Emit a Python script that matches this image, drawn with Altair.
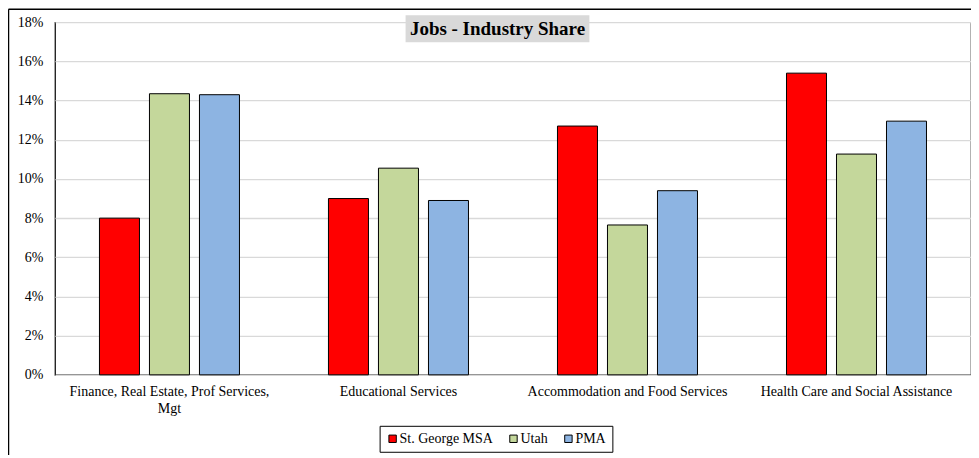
import altair as alt
import pandas as pd

categories = [
    "Finance, Real Estate, Prof Services, Mgt",
    "Educational Services",
    "Accommodation and Food Services",
    "Health Care and Social Assistance",
]
series = ["St. George MSA", "Utah", "PMA"]
st_george = [0.080, 0.090, 0.127, 0.154]
utah = [0.1435, 0.1055, 0.0765, 0.1127]
pma = [0.143, 0.089, 0.094, 0.1295]
colors = ["#ff0000", "#c4d79b", "#8db4e2"]
y_ticks = [0, 0.02, 0.04, 0.06, 0.08, 0.10, 0.12, 0.14, 0.16, 0.18]
title_text = "Jobs - Industry Share"

rows = []
for s, vals in zip(series, [st_george, utah, pma]):
    for c, v in zip(categories, vals):
        rows.append({"category": c, "series": s, "value": v})
df = pd.DataFrame(rows)

FONT = "Liberation Serif"

bars = alt.Chart(df).mark_bar(stroke="#000000", strokeWidth=1).encode(
    x=alt.X(
        "category:N",
        sort=categories,
        scale=alt.Scale(paddingInner=0, paddingOuter=0),
        axis=alt.Axis(
            title=None, labelAngle=0, ticks=False, domain=False,
            labelFont=FONT, labelFontSize=14, labelColor="#000",
            labelPadding=10, labelLimit=400, labelLineHeight=17,
            labelExpr="datum.label == 'Finance, Real Estate, Prof Services, Mgt' ? ['Finance, Real Estate, Prof Services,', 'Mgt'] : datum.label",
        ),
    ),
    xOffset=alt.XOffset(
        "series:N", sort=series,
        scale=alt.Scale(paddingInner=0.2, paddingOuter=0.89),
    ),
    y=alt.Y(
        "value:Q",
        scale=alt.Scale(domain=[0, 0.18], nice=False),
        axis=alt.Axis(
            title=None, values=y_ticks, format=".0%", ticks=False,
            domain=False, gridColor="#d9d9d9", gridWidth=1.3,
            labelFont=FONT, labelFontSize=14, labelColor="#000",
            labelPadding=12,
        ),
    ),
    color=alt.Color(
        "series:N", sort=series,
        scale=alt.Scale(domain=series, range=colors),
        legend=alt.Legend(
            title=None, orient="none", direction="horizontal",
            legendX=325, legendY=404,
            symbolType="square", symbolSize=55,
            symbolStrokeColor="#000", symbolStrokeWidth=1,
            labelFont=FONT, labelFontSize=14, labelColor="#000",
            strokeColor="#000", padding=6, columnPadding=13,
            labelOffset={"expr": "0"},
        ),
    ),
)

title_bg = alt.Chart(pd.DataFrame({"t": [title_text]})).mark_rect(
    color="#d9d9d9"
).encode(
    x=alt.value(351), x2=alt.value(535), y=alt.value(-7), y2=alt.value(20)
)
title = alt.Chart(pd.DataFrame({"t": [title_text]})).mark_text(
    font=FONT, fontSize=19, fontWeight="bold", color="#000",
    align="center", baseline="middle",
).encode(text="t:N", x=alt.value(443), y=alt.value(7))

frame_top = alt.Chart(pd.DataFrame({"t": [0]})).mark_rule(
    color="#000", strokeWidth=1.5
).encode(x=alt.value(-46.5), x2=alt.value(930), y=alt.value(-13))
frame_left = alt.Chart(pd.DataFrame({"t": [0]})).mark_rule(
    color="#000", strokeWidth=1.5
).encode(x=alt.value(-46.5), y=alt.value(-13), y2=alt.value(440))

chart = alt.layer(bars, frame_top, frame_left, title_bg, title).properties(
    width=917, height=353,
    autosize=alt.AutoSizeParams(type="none"),
    padding={"left": 47, "top": 14, "right": 0, "bottom": 80},
    background="#ffffff",
).configure_view(stroke="#000000", strokeWidth=1.2)

chart.save("out.html", embed_options={"renderer": "svg", "actions": False})
